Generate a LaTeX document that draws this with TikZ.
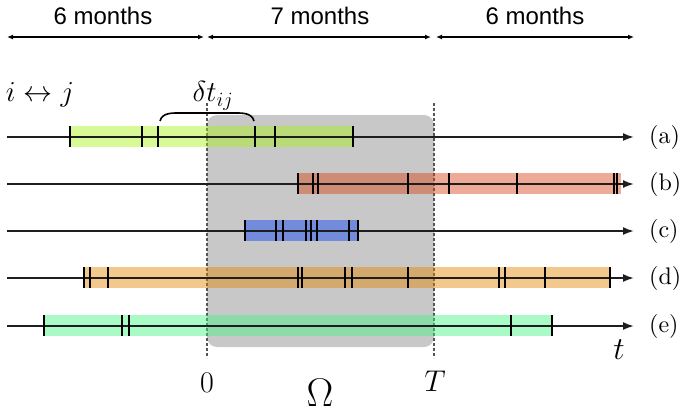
\RequirePackage{fix-cm}
\documentclass[tikz,border=0pt]{standalone}
\usepackage{fontspec}
\newfontfamily\monthfont{Liberation Sans}
\newfontfamily\rowfont{lmroman10-regular.otf}
\usetikzlibrary{arrows.meta}
\definecolor{cA}{RGB}{167,244,22}
\definecolor{cB}{RGB}{215,67,22}
\definecolor{cC}{RGB}{11,67,244}
\definecolor{cD}{RGB}{227,133,0}
\definecolor{cE}{RGB}{67,244,133}
\definecolor{boxgray}{RGB}{200,200,200}
\definecolor{dashgray}{RGB}{85,85,85}
\definecolor{linegray}{RGB}{30,30,30}
\begin{document}
\begin{tikzpicture}[x=1pt,y=-1pt,
  tl/.style={draw=linegray,line width=1.8pt,-{Latex[length=11pt,width=8pt]}},
  tickmark/.style={draw=black,line width=2.2pt},
  barA/.style={fill=cA,opacity=0.45},
  barB/.style={fill=cB,opacity=0.45},
  barC/.style={fill=cC,opacity=0.45},
  barD/.style={fill=cD,opacity=0.45},
  barE/.style={fill=cE,opacity=0.45},
  span/.style={draw=black,line width=1.4pt,{Latex[length=6pt,width=5pt]}-{Latex[length=6pt,width=5pt]}},
  monthlbl/.style={font=\monthfont\fontsize{24}{28}\selectfont,inner sep=0pt},
  rowlbl/.style={font=\rowfont\fontsize{24}{28}\selectfont,inner sep=0pt},
  mathlbl/.style={font=\fontsize{29}{33}\selectfont,inner sep=0pt},
  axislbl/.style={font=\fontsize{30}{34}\selectfont,inner sep=0pt},
  guide/.style={draw=dashgray,line width=1.5pt,dash pattern=on 3pt off 2pt}]
\useasboundingbox (0,0) rectangle (686,416);
% Omega window
\fill[boxgray,rounded corners=10pt] (207,115) rectangle (434,347);
\coordinate (g0top) at (207,103); \coordinate (g0bot) at (207,358);
\coordinate (gTtop) at (434,103); \coordinate (gTbot) at (434,358);
\draw[guide] (g0top) -- (g0bot);
\draw[guide] (gTtop) -- (gTbot);
% month spans
\coordinate (m0) at (7,37); \coordinate (m1a) at (204,37); \coordinate (m1b) at (207,37);
\coordinate (m2a) at (431,37); \coordinate (m2b) at (436,37); \coordinate (m3) at (634,37);
\draw[span] (m0) -- (m1a);
\draw[span] (m1b) -- (m2a);
\draw[span] (m2b) -- (m3);
\node[monthlbl] (t1) at (103,16) {6 months};
\node[monthlbl] (t2) at (320,16) {7 months};
\node[monthlbl] (t3) at (535,16) {6 months};
% bars
\fill[barA] (70,126) rectangle (353,147);
\fill[barB] (298,173) rectangle (621,194);
\fill[barC] (245,220) rectangle (358,241);
\fill[barD] (84,267) rectangle (610,288);
\fill[barE] (44,315) rectangle (552,336);
% timelines
\foreach \r/\y in {a/137,b/184,c/231,d/278,e/326}{
  \coordinate (s\r) at (7,\y);
  \coordinate (e\r) at (634,\y);
  \draw[tl] (s\r) -- (e\r);
  \node[rowlbl,anchor=west] (l\r) at (649,\y) {(\r)};
}
% ticks
\foreach \x in {70,142,158,255,275,353}{\draw[tickmark] (\x,126) -- (\x,147);}
\foreach \x in {298,313,318,408,449,517,614,617}{\draw[tickmark] (\x,173) -- (\x,194);}
\foreach \x in {245,276,283,306,311,317,349,358}{\draw[tickmark] (\x,220) -- (\x,241);}
\foreach \x in {84,90,108,298,302,345,352,408,499,505,545,610}{\draw[tickmark] (\x,267) -- (\x,288);}
\foreach \x in {44,122,129,511,552}{\draw[tickmark] (\x,315) -- (\x,336);}
% delta t bracket
\coordinate (bl) at (160,121); \coordinate (br) at (254,121);
\draw[line width=1.6pt] (bl) to[out=75,in=180] (182,113) -- (232,113) to[out=0,in=105] (br);
\node[mathlbl] (dt) at (213,96) {$\delta t_{ij}$};
\node[mathlbl] (ij) at (40,95) {$i\leftrightarrow j$};
% axis labels
\node[axislbl] (zero) at (207,383) {$0$};
\node[axislbl] (bigT) at (435,381) {$T$};
\node[font=\fontsize{32}{36}\selectfont,inner sep=0pt] (tt) at (619,350) {$t$};
\node[font=\fontsize{40}{44}\selectfont,inner sep=0pt] (om) at (320,393) {$\Omega$};
\end{tikzpicture}
\end{document}
